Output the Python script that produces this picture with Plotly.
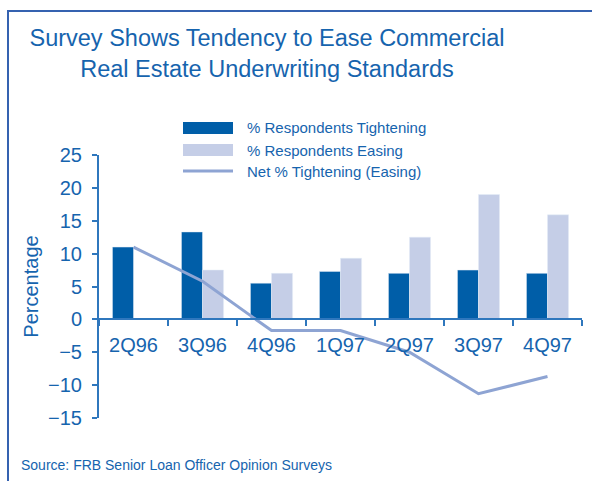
import plotly.graph_objects as go

# data
quarters = ['2Q96', '3Q96', '4Q96', '1Q97', '2Q97', '3Q97', '4Q97']
tightening = [11.0, 13.3, 5.5, 7.3, 7.0, 7.5, 7.0]
easing = [0.0, 7.5, 7.0, 9.3, 12.5, 19.0, 15.9]
net = [11.0, 5.8, -1.7, -1.7, -5.0, -11.3, -8.7]
series_names = ['% Respondents Tightening', '% Respondents Easing', 'Net % Tightening (Easing)']
y_ticks = [-15, -10, -5, 0, 5, 10, 15, 20, 25]

dark = '#005EA8'
light = '#C5CEE7'
net_col = '#8EA4D3'
txt = '#1664AE'
axis_col = '#2F77BD'
font = 'Liberation Sans, Arial, sans-serif'

# plot area in pixels, used to place the hand made legend / frame
L, R, T, B = 99, 582, 155, 418
def px(x):
    return (x - L) / (R - L)
def py(y):
    return (B - y) / (B - T)

fig = go.Figure()
fig.add_trace(go.Bar(x=quarters, y=tightening, name=series_names[0], marker_color=dark))
fig.add_trace(go.Bar(x=quarters, y=easing, name=series_names[1], marker_color=light))
fig.add_trace(go.Scatter(x=quarters, y=net, name=series_names[2], mode='lines',
                         line=dict(color=net_col, width=3)))

shapes = []
annotations = []
# legend drawn by hand so the swatches are wide like the original
rows = [(128, 'bar', dark), (150, 'bar', light), (171, 'line', net_col)]
for (yc, kind, col), name in zip(rows, series_names):
    if kind == 'bar':
        shapes.append(dict(type='rect', xref='paper', yref='paper',
                           x0=px(183), x1=px(233), y0=py(yc + 6), y1=py(yc - 6),
                           fillcolor=col, line=dict(width=0)))
    else:
        shapes.append(dict(type='line', xref='paper', yref='paper',
                           x0=px(183), x1=px(233), y0=py(yc), y1=py(yc),
                           line=dict(color=col, width=3)))
    annotations.append(dict(text=name, xref='paper', yref='paper', x=px(245), y=py(yc),
                            xanchor='left', yanchor='middle', showarrow=False,
                            font=dict(size=15, color=txt, family=font)))

# outer frame: only left and top edges are visible in the original
shapes.append(dict(type='line', xref='paper', yref='paper',
                   x0=px(8), x1=px(8), y0=py(10), y1=py(481),
                   line=dict(color='#3562B0', width=2)))
shapes.append(dict(type='line', xref='paper', yref='paper',
                   x0=px(7), x1=px(592), y0=py(11), y1=py(11),
                   line=dict(color='#3562B0', width=2)))

annotations.append(dict(text='Source: FRB Senior Loan Officer Opinion Surveys',
                        xref='paper', yref='paper', x=px(19), y=py(465),
                        xanchor='left', yanchor='middle', showarrow=False,
                        font=dict(size=14, color=txt, family=font)))

fig.update_layout(
    width=592, height=481,
    margin=dict(l=L, r=592 - R, t=T, b=481 - B),
    paper_bgcolor='white', plot_bgcolor='white',
    barmode='group', bargap=0.39, bargroupgap=0,
    showlegend=False,
    font=dict(family=font, color=txt),
    title=dict(text='Survey Shows Tendency to Ease Commercial<br>Real Estate Underwriting Standards',
               x=267 / 592, xanchor='center', xref='container',
               y=1 - 46 / 481, yanchor='middle', yref='container',
               font=dict(size=23.5, color=txt, family=font)),
    xaxis=dict(anchor='free', position=0.375, showline=True, linecolor=axis_col, linewidth=2,
               ticks='outside', tickson='boundaries', ticklen=6, tickcolor=axis_col, tickwidth=2,
               tickfont=dict(size=20, color=txt), ticklabelstandoff=8, showgrid=False),
    yaxis=dict(range=[-15, 25], tickvals=y_ticks, showline=True, linecolor=axis_col, linewidth=2,
               ticks='outside', ticklen=5, tickcolor=axis_col, tickwidth=2,
               tickfont=dict(size=20, color=txt), ticklabelstandoff=6,
               showgrid=False, zeroline=False,
               title=dict(text='Percentage', font=dict(size=20, color=txt), standoff=4)),
    shapes=shapes, annotations=annotations,
)

# drop the default page margin so the figure sits at the window's corner
fig.write_html('out.html', config={'displayModeBar': False},
               post_script="document.body.style.margin='0';")
